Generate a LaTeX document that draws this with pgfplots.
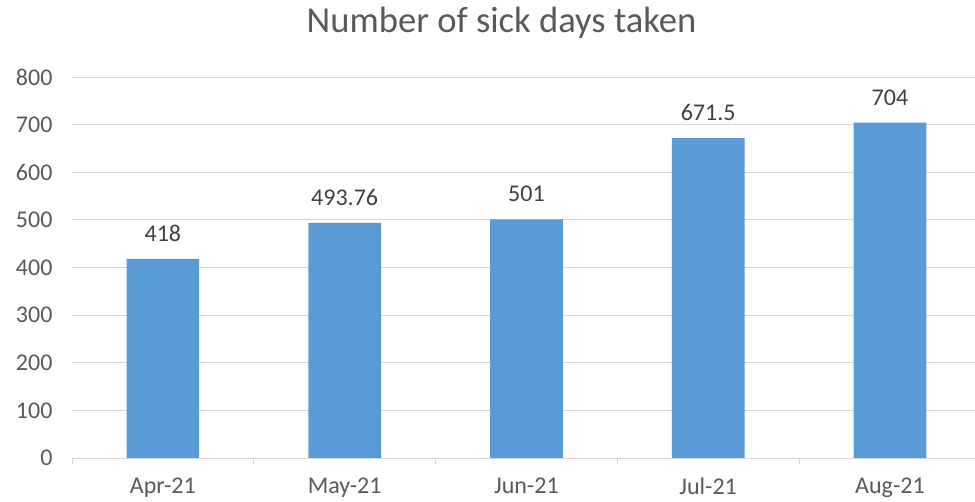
\documentclass[border=0pt]{standalone}
\usepackage{pgfplots}
\pgfplotsset{compat=1.18}
\usepackage{fontspec}
\setmainfont{Carlito}
\definecolor{barblue}{HTML}{5B9BD5}
\definecolor{gridgray}{HTML}{D9D9D9}
\definecolor{ticktext}{HTML}{595959}
\definecolor{labeltext}{HTML}{404040}
\begin{document}
\begin{tikzpicture}
\begin{axis}[
  scale only axis,
  width=903bp, height=381bp,
  xmin=-0.5, xmax=4.468,
  ymin=0, ymax=800,
  ytick={0,100,...,800},
  xtick={0,1,2,3,4},
  xticklabels={Apr-21,May-21,Jun-21,Jul-21,Aug-21},
  minor xtick={-0.5,0.5,1.5,2.5,3.5,4.5},
  major tick length=0pt,
  minor tick length=6bp,
  tick align=outside,
  minor tick style={gridgray, line width=0.9bp},
  axis lines=left,
  axis line style={-},
  x axis line style={gridgray, line width=0.9bp},
  y axis line style={draw=none},
  ymajorgrids,
  major grid style={gridgray, line width=0.9bp},
  tick label style={font=\fontsize{24bp}{28bp}\selectfont, text=ticktext},
  yticklabel style={xshift=-16bp},
  xticklabel style={yshift=-16bp},
  /pgf/number format/assume math mode=true,
  ybar,
  bar width=0.4,
  nodes near coords,
  every node near coord/.append style={font=\fontsize{24bp}{28bp}\selectfont, text=labeltext, yshift=14bp},
  title={Number of sick days taken},
  title style={font=\fontsize{36.6bp}{40bp}\selectfont, text=ticktext, at={(rel axis cs:0.5,1)}, anchor=base, xshift=-22bp, yshift=39bp},
]
\addplot[fill=barblue, draw=none, point meta=explicit symbolic] table[meta=label] {
x y label
0 418 418
1 493.76 493.76
2 501 501
3 671.5 671.5
4 704 704
};
\end{axis}
\pgfresetboundingbox
\useasboundingbox ([shift={(-72bp,-44bp)}]current axis.south west) rectangle ([shift={(0bp,77bp)}]current axis.north east);
\end{tikzpicture}
\end{document}
